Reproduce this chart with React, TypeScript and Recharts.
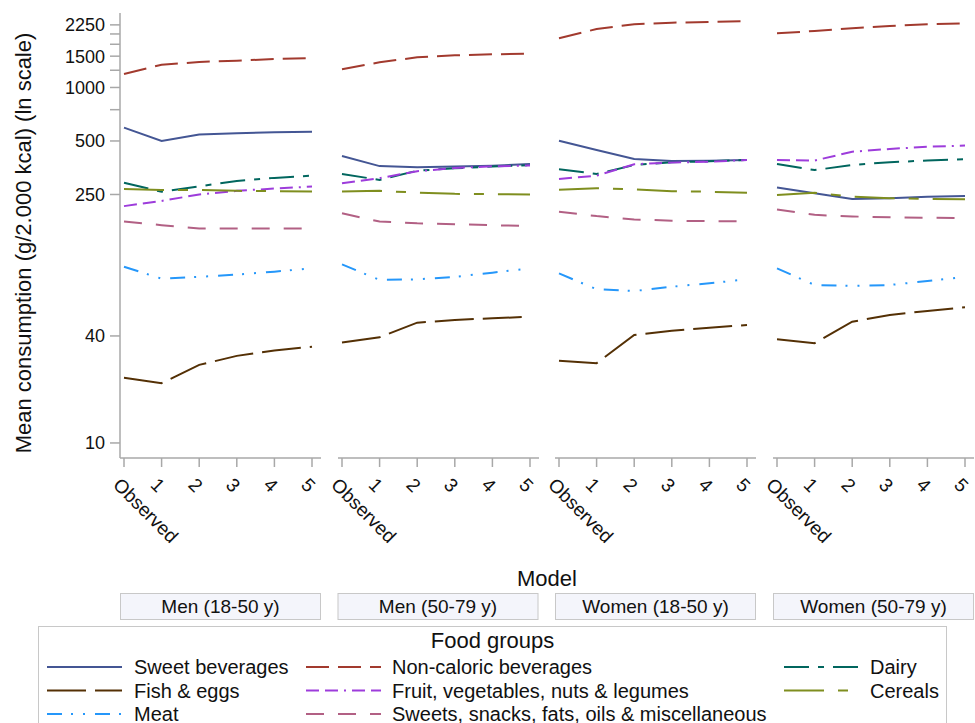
import React from "react";
import { LineChart, Line, XAxis, YAxis } from "recharts";

const categories = ["Observed", "1", "2", "3", "4", "5"];
const panels = ["Men (18-50 y)", "Men (50-79 y)", "Women (18-50 y)", "Women (50-79 y)"];
const yTicks = [10, 40, 250, 500, 750, 1000, 1250, 1500, 1750, 2000, 2250];
const yTickLabels = [10, 40, 250, 500, 1000, 1500, 2250];

// one row per panel, same order as `panels`
const sweetBeverages = [
  [594, 500, 543, 553, 560, 564],
  [412, 361, 356, 359, 363, 371],
  [502, 445, 396, 386, 387, 391],
  [274, 254, 236, 238, 243, 245],
];
const nonCaloric = [
  [1191, 1343, 1391, 1415, 1447, 1465],
  [1266, 1385, 1478, 1517, 1537, 1549],
  [1891, 2133, 2268, 2314, 2335, 2366],
  [2017, 2079, 2153, 2218, 2268, 2296],
];
const dairy = [
  [291, 259, 278, 298, 310, 319],
  [326, 302, 340, 351, 359, 366],
  [347, 326, 366, 380, 384, 391],
  [371, 343, 366, 380, 388, 395],
];
const fishEggs = [
  [23.3, 21.7, 27.5, 30.9, 33.1, 34.8],
  [36.7, 39.3, 47.5, 49.2, 50.3, 51.3],
  [29, 28.1, 40.5, 42.8, 44.5, 46.1],
  [38.3, 36.4, 48.1, 52.5, 55.3, 58],
];
const fruitVeg = [
  [215, 230, 250, 262, 270, 277],
  [289, 309, 338, 352, 360, 364],
  [306, 319, 370, 378, 382, 391],
  [391, 388, 435, 451, 464, 471],
];
const cereals = [
  [268, 265, 265, 262, 261, 260],
  [260, 262, 256, 252, 251, 250],
  [266, 271, 267, 261, 259, 256],
  [248, 256, 243, 238, 236, 235],
];
const meat = [
  [98, 84, 86, 88.5, 92, 96],
  [101, 82.6, 83.3, 86, 90.8, 96],
  [90, 73.2, 71.6, 75.7, 79.1, 83.3],
  [96, 77.4, 76.4, 77.4, 81.5, 86],
];
const sweets = [
  [176, 168, 161, 161, 161, 161],
  [196, 176, 172, 170, 168, 166],
  [200, 189, 181, 178, 177, 177],
  [206, 192, 188, 186, 185, 184],
];

const series = [
  { key: "sweet", name: "Sweet beverages", color: "#445694", dash: undefined, values: sweetBeverages },
  { key: "noncal", name: "Non-caloric beverages", color: "#A23A2E", dash: "23 9", values: nonCaloric },
  { key: "dairy", name: "Dairy", color: "#01665E", dash: "25 9 6 9", values: dairy },
  { key: "fish", name: "Fish & eggs", color: "#543005", dash: "39 9", values: fishEggs },
  { key: "fruit", name: "Fruit, vegetables, nuts & legumes", color: "#9D3CDB", dash: "13 6 13 6 2 6", values: fruitVeg },
  { key: "cereals", name: "Cereals", color: "#7F8E1F", dash: "40 14 10 14", values: cereals },
  { key: "meat", name: "Meat", color: "#2597FA", dash: "15 9 2 10 2 10", values: meat },
  { key: "sweets", name: "Sweets, snacks, fats, oils & miscellaneous", color: "#B26084", dash: "18 14", values: sweets },
];

const FONT = "'Liberation Sans', Arial, sans-serif";
const AXIS = "#a8a8a8";
const panelX = [120, 337.5, 555, 773];
const PANEL_W = 201;
const CHART_H = 560;
const GUTTER = 20; // room for the rotated "Observed" label left of the first tick
const Y_DOMAIN: [number, number] = [8.23, 2624];

function tableFor(p: number) {
  return categories.map((c, i) => {
    const row: Record<string, string | number> = { model: c };
    series.forEach((s) => (row[s.key] = s.values[p][i]));
    return row;
  });
}

function XTick({ x, y, payload }: any) {
  const ax = x - 12;
  const ay = y + 17;
  return (
    <text x={ax} y={ay} transform={`rotate(45 ${ax} ${ay})`} fontSize={19} fontFamily={FONT} fill="#111">
      {payload.value}
    </text>
  );
}

function YTick({ x, y, payload }: any) {
  if (!yTickLabels.includes(payload.value)) return <g />;
  return (
    <text x={x} y={y} dy="0.36em" textAnchor="end" fontSize={18} fontFamily={FONT} fill="#111">
      {payload.value}
    </text>
  );
}

function Panel({ p }: { p: number }) {
  const first = p === 0;
  return (
    <div style={{ position: "absolute", left: first ? 0 : panelX[p] - GUTTER, top: 0 }}>
      <LineChart
        width={first ? panelX[0] + PANEL_W : PANEL_W + GUTTER}
        height={CHART_H}
        data={tableFor(p)}
        margin={{ top: 13, right: 0, bottom: 0, left: first ? 0 : GUTTER }}
      >
        <XAxis
          dataKey="model"
          type="category"
          height={CHART_H - 458}
          padding={{ left: 4, right: 9 }}
          interval={0}
          tickSize={9}
          axisLine={{ stroke: AXIS, strokeWidth: 1.5 }}
          tickLine={{ stroke: AXIS, strokeWidth: 1.5 }}
          tick={<XTick />}
        />
        <YAxis
          type="number"
          scale="log"
          domain={Y_DOMAIN}
          allowDataOverflow
          ticks={yTicks}
          interval={0}
          hide={!first}
          width={first ? panelX[0] : 0}
          tickSize={10}
          tickMargin={5}
          axisLine={{ stroke: AXIS, strokeWidth: 1.5 }}
          tickLine={{ stroke: AXIS, strokeWidth: 1.5 }}
          tick={<YTick />}
        />
        {series.map((s) => (
          <Line
            key={s.key}
            type="linear"
            dataKey={s.key}
            stroke={s.color}
            strokeWidth={2}
            strokeDasharray={s.dash}
            dot={false}
            activeDot={false}
            isAnimationActive={false}
          />
        ))}
      </LineChart>
    </div>
  );
}

const legendCols = [
  { lx: 47, tx: 134 },
  { lx: 306, tx: 392 },
  { lx: 784, tx: 870 },
];
const legendRowsY = [667, 690.5, 714];

export default function App() {
  return (
    <div
      style={{
        position: "absolute",
        left: 0,
        top: 0,
        width: 975,
        height: 723,
        overflow: "hidden",
        background: "#fff",
        fontFamily: FONT,
      }}
    >
      {panels.map((_, p) => (
        <Panel key={p} p={p} />
      ))}
      <svg width={975} height={723} style={{ position: "absolute", left: 0, top: 0, pointerEvents: "none" }}>
        <text x={31} y={243} transform="rotate(-90 31 243)" textAnchor="middle" fontSize={22} fill="#111">
          Mean consumption (g/2.000 kcal) (ln scale)
        </text>
        <text x={547} y={586} textAnchor="middle" fontSize={22} fill="#111">
          Model
        </text>
        {panels.map((name, p) => (
          <g key={name}>
            <rect x={panelX[p] + 0.5} y={593.5} width={PANEL_W - 1} height={26} fill="#f4f5fb" stroke="#c8c8c8" />
            <text x={panelX[p] + PANEL_W / 2} y={613} textAnchor="middle" fontSize={19} fill="#111">
              {name}
            </text>
          </g>
        ))}
        <rect x={38.5} y={626.5} width={908} height={130} fill="none" stroke="#c8c8c8" />
        <text x={492.5} y={648} textAnchor="middle" fontSize={22} fill="#111">
          Food groups
        </text>
        {series.map((s, i) => {
          const col = legendCols[i % 3];
          const y = legendRowsY[Math.floor(i / 3)];
          return (
            <g key={s.key}>
              <line x1={col.lx} x2={col.lx + 75} y1={y} y2={y} stroke={s.color} strokeWidth={2} strokeDasharray={s.dash} />
              <text x={col.tx} y={y + 7} fontSize={20} fill="#111">
                {s.name}
              </text>
            </g>
          );
        })}
      </svg>
    </div>
  );
}
